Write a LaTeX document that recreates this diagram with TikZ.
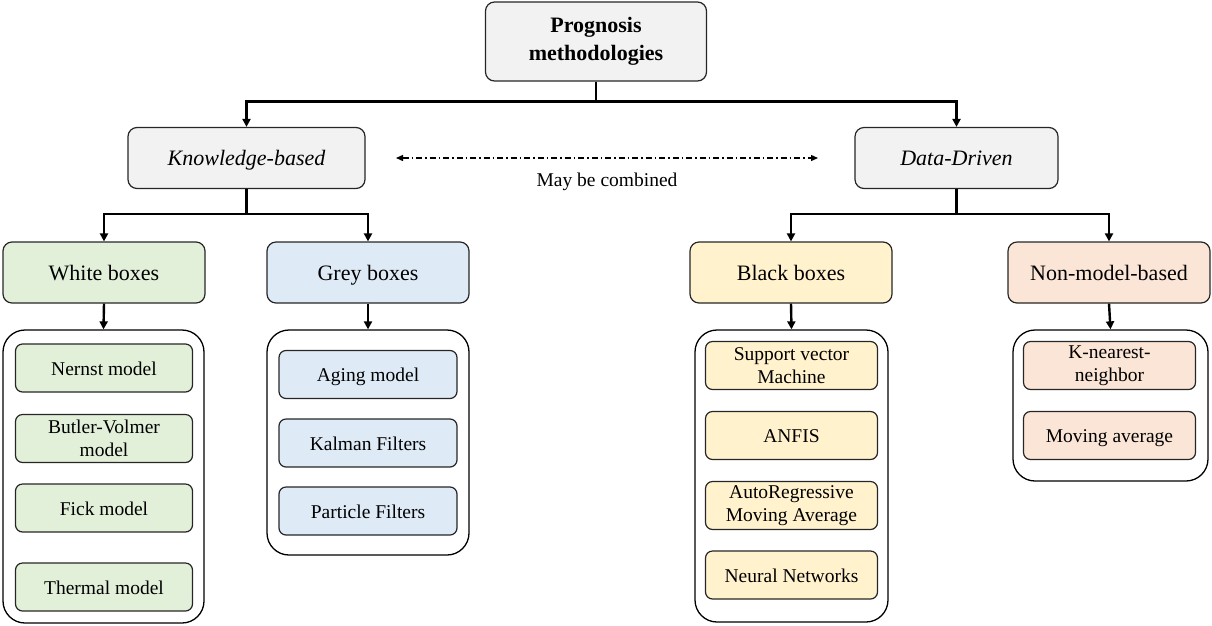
\documentclass[tikz,border=0pt]{standalone}
\usepackage{fontspec}
\setmainfont{Liberation Serif}
\usetikzlibrary{arrows.meta}
\definecolor{rootfill}{HTML}{F2F2F2}
\definecolor{greenfill}{HTML}{E2F0D9}
\definecolor{bluefill}{HTML}{DEEBF7}
\definecolor{yellowfill}{HTML}{FFF2CC}
\definecolor{peachfill}{HTML}{FBE5D6}
\definecolor{edge}{HTML}{262626}
\begin{document}
\begin{tikzpicture}[x=1pt,y=-1pt,
  box/.style={draw=edge, line width=1.2pt, rounded corners=9pt, align=center, inner sep=0pt},
  head/.style={box, minimum width=202pt, minimum height=61pt, text height=16pt, text depth=0.5pt,
               font=\fontsize{22}{25}\selectfont},
  item/.style={box, rounded corners=7pt, minimum height=48pt, font=\fontsize{19.5}{23}\selectfont},
  item1/.style={item, text height=14pt, text depth=0pt},
  group/.style={draw=black, line width=1.3pt, rounded corners=22pt, inner sep=0pt},
  link/.style={line width=2.4pt, -{Triangle[length=8pt,width=8pt]}},
]
\useasboundingbox (0,0) rectangle (1212,625);

% top of the hierarchy
\node[box, fill=rootfill, minimum width=221pt, minimum height=79pt,
      font=\bfseries\fontsize{22}{28.5}\selectfont] (root) at (596,41.5) {Prognosis\\methodologies};

% the two families
\node[head, fill=rootfill, minimum width=237pt, font=\itshape\fontsize{22}{25}\selectfont] (kb) at (246.5,158) {Knowledge-based};
\node[head, fill=rootfill, minimum width=203pt, font=\itshape\fontsize{22}{25}\selectfont] (dd) at (956.5,158) {Data-Driven};

% the four model classes
\node[head, fill=greenfill]  (wb) at (104,272.5)  {White boxes};
\node[head, fill=bluefill]   (gb) at (368,272.5)  {Grey boxes};
\node[head, fill=yellowfill] (bb) at (791,272.5)  {Black boxes};
\node[head, fill=peachfill]  (nm) at (1109,272.5) {Non-model-based};

% containers
\node[group, minimum width=201pt, minimum height=293pt] (wc) at (103.5,476.5) {};
\node[group, minimum width=202pt, minimum height=225pt] (gc) at (368,442.5) {};
\node[group, minimum width=193pt, minimum height=292pt] (bc) at (791.5,476) {};
\node[group, minimum width=195pt, minimum height=151pt] (nc) at (1110.5,405.5) {};

% white-box methods
\node[item1, fill=greenfill, minimum width=177pt] (w1) at (104,368) {Nernst model};
\node[item,  fill=greenfill, minimum width=177pt] (w2) at (104,438.5) {Butler-Volmer\\model};
\node[item1, fill=greenfill, minimum width=177pt] (w3) at (104,508) {Fick model};
\node[item1, fill=greenfill, minimum width=177pt] (w4) at (104,587) {Thermal model};

% grey-box methods
\node[item1, fill=bluefill, minimum width=178pt] (g1) at (368,374.5) {Aging model};
\node[item1, fill=bluefill, minimum width=178pt] (g2) at (368,443) {Kalman Filters};
\node[item1, fill=bluefill, minimum width=178pt] (g3) at (368,511) {Particle Filters};

% black-box methods
\node[item,  fill=yellowfill, minimum width=172pt] (b1) at (791.5,365.5) {Support vector\\Machine};
\node[item1, fill=yellowfill, minimum width=172pt] (b2) at (791.5,435.5) {ANFIS};
\node[item,  fill=yellowfill, minimum width=172pt] (b3) at (791.5,505.5) {AutoRegressive\\Moving Average};
\node[item1, fill=yellowfill, minimum width=172pt] (b4) at (791.5,575) {Neural Networks};

% non-model-based methods
\node[item,  fill=peachfill, minimum width=172pt] (n1) at (1109.5,365.5) {K-nearest-\\neighbor};
\node[item1, fill=peachfill, minimum width=172pt] (n2) at (1109.5,435.5) {Moving average};

% tree connectors
\draw[link] (root.south) -- ++(0,20) -| (kb.north);
\draw[link] (root.south) -- ++(0,20) -| (dd.north);
\draw[link] (kb.south) -- ++(0,25) -| (wb.north);
\draw[link] (kb.south) -- ++(0,25) -| (gb.north);
\draw[link] (dd.south) -- ++(0,25) -| (bb.north);
\draw[link] (dd.south) -- ++(0,25) -| (nm.north);
\draw[link] (wb.south) -- (wc.north);
\draw[link] (gb.south) -- (gc.north);
\draw[link] (bb.south) -- (bc.north);
\draw[link] (nm.south) -- (nc.north);

% optional combination of both families
\coordinate (cl) at (396,158);
\coordinate (cr) at (818,158);
\draw[line width=1.3pt, dash pattern=on 6pt off 3pt on 1.5pt off 3pt,
      {Triangle[length=7pt,width=6pt]}-{Triangle[length=7pt,width=6pt]}] (cl) -- (cr);
\node[font=\fontsize{19.5}{23}\selectfont] (comb) at (607,182) {May be combined};
\end{tikzpicture}
\end{document}
